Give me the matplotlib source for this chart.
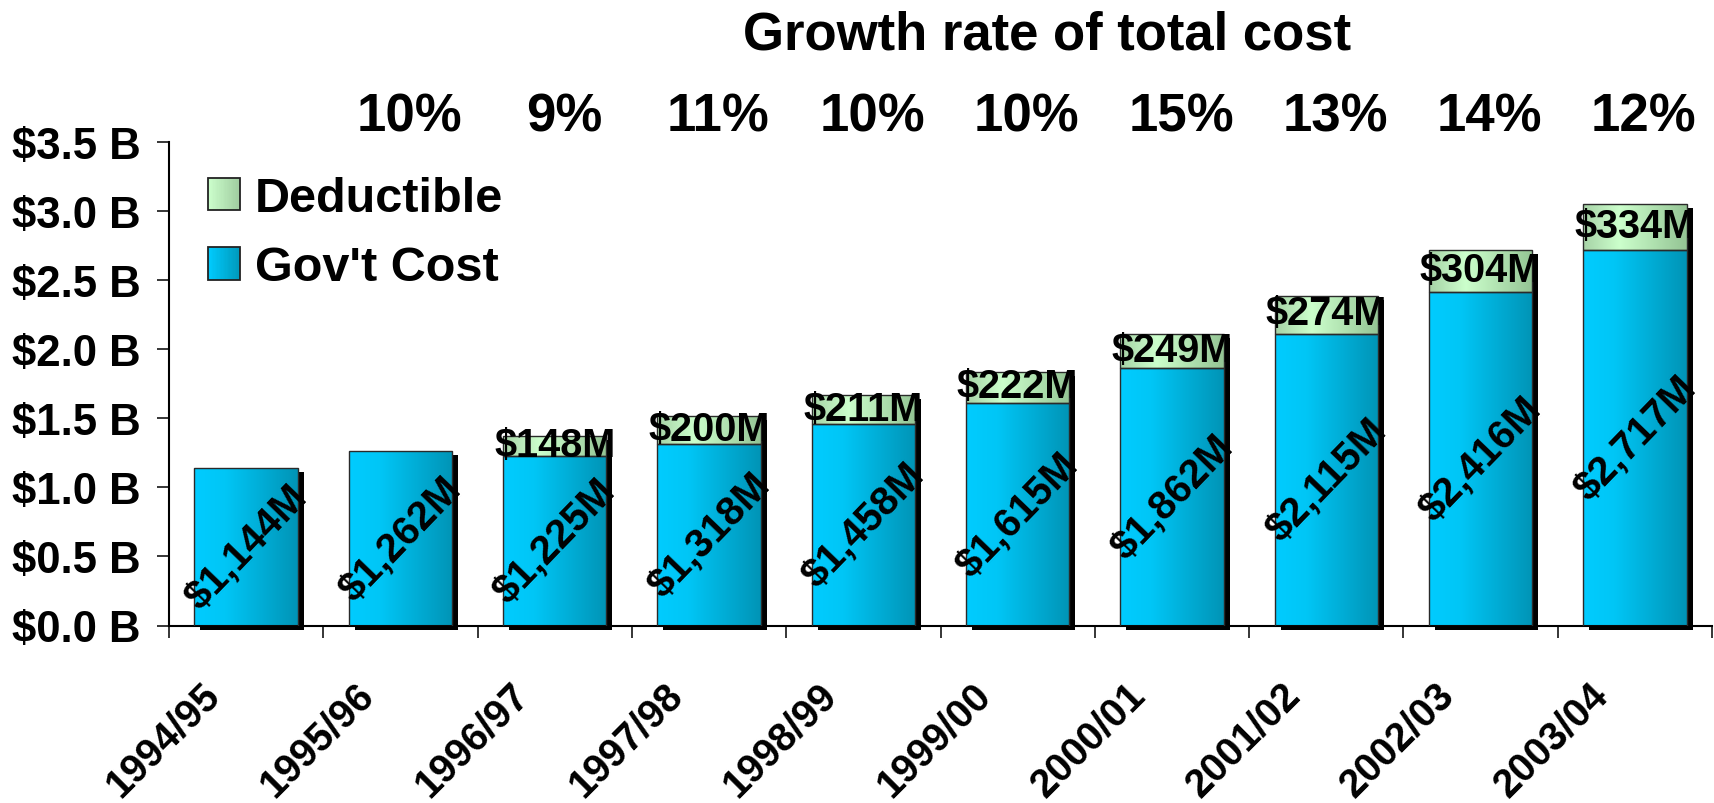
import numpy as np
import matplotlib
matplotlib.use("Agg")
import matplotlib.pyplot as plt
from matplotlib.colors import LinearSegmentedColormap
from matplotlib.patches import Rectangle, Patch
from matplotlib.legend_handler import HandlerBase
from matplotlib.transforms import ScaledTranslation, blended_transform_factory

# ---- data (millions of dollars) ----
years = ["1994/95", "1995/96", "1996/97", "1997/98", "1998/99",
         "1999/00", "2000/01", "2001/02", "2002/03", "2003/04"]
govt_cost = [1144, 1262, 1225, 1318, 1458, 1615, 1862, 2115, 2416, 2717]
deductible = [0, 0, 148, 200, 211, 222, 249, 274, 304, 334]
growth_labels = ["10%", "9%", "11%", "10%", "10%", "15%", "13%", "14%", "12%"]
y_ticks = [0, 500, 1000, 1500, 2000, 2500, 3000, 3500]
y_tick_labels = ["$0.0 B", "$0.5 B", "$1.0 B", "$1.5 B",
                 "$2.0 B", "$2.5 B", "$3.0 B", "$3.5 B"]

plt.rcParams["font.family"] = ["Liberation Sans", "DejaVu Sans"]
plt.rcParams["font.weight"] = "bold"

gov_cmap = LinearSegmentedColormap.from_list(
    "gov", [(0.0, "#00CCFF"), (0.3, "#00C6F6"), (1.0, "#0094B6")])
ded_cmap = LinearSegmentedColormap.from_list(
    "ded", [(0.0, "#A6D2A6"), (0.35, "#CCFFCC"), (1.0, "#94C494")])
legend_gov_cmap = LinearSegmentedColormap.from_list("lg", ["#00CCFF", "#0098BA"])
legend_ded_cmap = LinearSegmentedColormap.from_list("ld", ["#CCFFCC", "#A0CCA0"])

W, H, DPI = 1714, 804, 100
fig = plt.figure(figsize=(W / DPI, H / DPI), dpi=DPI)
ax_l, ax_r, ax_t, ax_b = 169, 1712, 143.3, 626.5
ax = fig.add_axes([ax_l / W, (H - ax_b) / H, (ax_r - ax_l) / W, (ax_b - ax_t) / H])

x = np.arange(len(years))
bar_w = 0.67
totals = [g + d for g, d in zip(govt_cost, deductible)]

# drop shadow behind each full stack
shadow_tf = ax.transData + ScaledTranslation(6 / DPI, -4 / DPI, fig.dpi_scale_trans)
ax.bar(x, totals, bar_w, color="black", linewidth=0, transform=shadow_tf,
       zorder=1, clip_on=False)

grad = np.linspace(0, 1, 256).reshape(1, -1)


def gradient_fill(bars, cmap):
    for b in bars:
        x0, y0 = b.get_x(), b.get_y()
        im = ax.imshow(grad, cmap=cmap, aspect="auto", origin="lower",
                       interpolation="bilinear", zorder=2,
                       extent=[x0, x0 + b.get_width(), y0, y0 + b.get_height()])
        im.set_clip_path(b)


gov_bars = ax.bar(x, govt_cost, bar_w, facecolor="none", edgecolor="#2a2a2a",
                  linewidth=1.0, zorder=3)
gradient_fill(gov_bars, gov_cmap)

has_ded = [i for i, d in enumerate(deductible) if d > 0]
ded_bars = ax.bar([x[i] for i in has_ded], [deductible[i] for i in has_ded], bar_w,
                  bottom=[govt_cost[i] for i in has_ded], facecolor="none",
                  edgecolor="#2a2a2a", linewidth=1.0, zorder=3)
gradient_fill(ded_bars, ded_cmap)

# value labels
for xi, g in zip(x, govt_cost):
    ax.text(xi, g / 2, f"${g:,}M", rotation=46, rotation_mode="anchor",
            ha="center", va="center", fontsize=29, zorder=5)
for i in has_ded:
    ax.text(x[i], govt_cost[i] + deductible[i] / 2 + 8, f"${deductible[i]}M",
            ha="center", va="center", fontsize=28.5, zorder=5)

# growth-rate row and its heading
top_tf = blended_transform_factory(ax.transData, ax.transAxes) + \
    ScaledTranslation(9 / DPI, -3 / DPI, fig.dpi_scale_trans)
for xi, lab in zip(x[1:], growth_labels):
    ax.text(xi, 1.0586, lab, transform=top_tf, ha="center", va="center",
            fontsize=38)
ax.text(0.569, 1.224, "Growth rate of total cost", transform=ax.transAxes,
        ha="center", va="center", fontsize=38)

# axes styling
ax.set_xlim(-0.5, len(years) - 0.5)
ax.set_ylim(0, 3500)
ax.set_yticks(y_ticks)
ax.set_yticklabels(y_tick_labels)
ax.tick_params(axis="y", length=8.6, width=1.1, pad=12, labelsize=31.5)
ax.set_xticks(x)
ax.set_xticklabels(years, rotation=45, ha="right", va="top", fontsize=28.5)
ax.set_xticks(np.arange(-0.5, len(years), 1), minor=True)
ax.tick_params(axis="x", which="major", length=0, pad=35.5)
ax.tick_params(axis="x", which="minor", length=8.6, width=1.1, direction="out")
shift = ScaledTranslation(-19 / DPI, 0, fig.dpi_scale_trans)
for lab in ax.get_xticklabels():
    lab.set_transform(lab.get_transform() + shift)
for s in ("top", "right"):
    ax.spines[s].set_visible(False)
for s in ("left", "bottom"):
    ax.spines[s].set_linewidth(1.5)


class GradientHandler(HandlerBase):
    def __init__(self, cmap, n=24):
        super().__init__()
        self.cmap, self.n = cmap, n

    def create_artists(self, legend, orig_handle, xdescent, ydescent,
                       width, height, fontsize, trans):
        arts = []
        step = width / self.n
        for k in range(self.n):
            arts.append(Rectangle((-xdescent + k * step, -ydescent), step * 1.05, height,
                                  facecolor=self.cmap((k + 0.5) / self.n),
                                  edgecolor="none", transform=trans))
        arts.append(Rectangle((-xdescent, -ydescent), width, height, facecolor="none",
                              edgecolor="#222222", linewidth=1.3, transform=trans))
        return arts


h_ded = Patch(label="Deductible")
h_gov = Patch(label="Gov't Cost")
ax.legend([h_ded, h_gov], ["Deductible", "Gov't Cost"],
          handler_map={h_ded: GradientHandler(legend_ded_cmap),
                       h_gov: GradientHandler(legend_gov_cmap)},
          loc="upper left", bbox_to_anchor=((208 - ax_l) / (ax_r - ax_l),
                                            (ax_b - 177) / (ax_b - ax_t)),
          frameon=False, fontsize=35, borderpad=0, borderaxespad=0,
          handlelength=0.66, handleheight=0.66, handletextpad=0.3,
          labelspacing=0.5)

fig.savefig("out.png", dpi=DPI)
